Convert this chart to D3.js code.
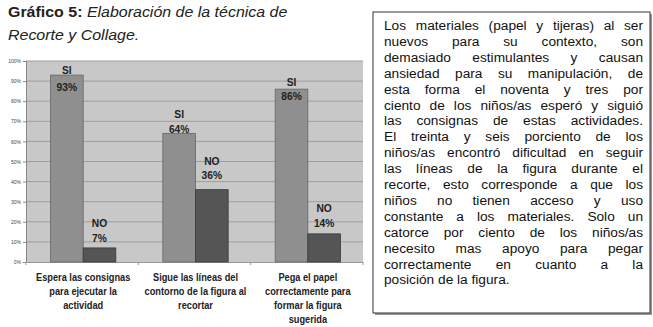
<!DOCTYPE html>
<html><head><meta charset="utf-8">
<script src="https://cdn.jsdelivr.net/npm/d3@7"></script>
<style>body{margin:0;background:#fff}svg{display:block}</style>
</head><body>
<svg id="c" width="653" height="327"></svg>
<script>
const categories = [
  ["Espera las consignas","para ejecutar la","actividad"],
  ["Sigue las líneas del","contorno de la figura al","recortar"],
  ["Pega el papel","correctamente para","formar la figura","sugerida"]
];
const seriesNames = ["SI","NO"];
const siValues = [93, 64, 86];
const noValues = [7, 36, 14];
const yTicks = [0,10,20,30,40,50,60,70,80,90,100];
const titleBold = "Gráfico 5:";
const titleItalic1 = " Elaboración de la técnica de";
const titleItalic2 = "Recorte y Collage.";
const paragraphLines = [
  "Los materiales (papel y tijeras) al ser",
  "nuevos para su contexto, son",
  "demasiado estimulantes y causan",
  "ansiedad para su manipulación, de",
  "esta forma el noventa y tres por",
  "ciento de los niños/as esperó y siguió",
  "las consignas de estas actividades.",
  "El treinta y seis porciento de los",
  "niños/as encontró dificultad en seguir",
  "las líneas de la figura durante el",
  "recorte, esto corresponde a que los",
  "niños no tienen acceso y uso",
  "constante a los materiales. Solo un",
  "catorce por ciento de los niños/as",
  "necesito mas apoyo para pegar",
  "correctamente en cuanto a la",
  "posición de la figura."
];

const svg = d3.select("#c");
const font = "Arial, 'Liberation Sans', sans-serif";

// Title
const t1 = svg.append("text").attr("transform", "translate(8,17) scale(1.05,1)").attr("font-family", font).attr("font-size", 15.2).attr("fill", "#222");
t1.append("tspan").attr("font-weight", "bold").text(titleBold);
t1.append("tspan").attr("font-style", "italic").text(titleItalic1);
svg.append("text").attr("transform", "translate(8,40) scale(1.05,1)").attr("font-family", font).attr("font-size", 15.2).attr("font-style", "italic").attr("fill", "#222").text(titleItalic2);

// Plot
const px0 = 26, px1 = 363, py0 = 61, py1 = 262;
const x0 = d3.scaleBand().domain(d3.range(categories.length)).range([px0, px1]).paddingInner(0).paddingOuter(0);
const x1 = d3.scaleBand().domain(seriesNames).range([0, x0.bandwidth()]).paddingInner(0).paddingOuter(0.72);
const y = d3.scaleLinear().domain([0, 100]).range([py1, py0]);

svg.append("rect").attr("x", px0).attr("y", py0).attr("width", px1 - px0).attr("height", py1 - py0).attr("fill", "#c8c8c8");
svg.append("g").selectAll("line").data(yTicks.slice(1)).join("line")
  .attr("x1", px0).attr("x2", px1).attr("y1", d => y(d)).attr("y2", d => y(d))
  .attr("stroke", "#9e9e9e").attr("stroke-width", 1);

const yAxis = svg.append("g").attr("transform", `translate(${px0},0)`)
  .call(d3.axisLeft(y).tickValues(yTicks).tickFormat(d => d + "%").tickSize(3).tickPadding(2));
yAxis.select(".domain").attr("stroke", "#888");
yAxis.selectAll(".tick line").attr("stroke", "#888");
yAxis.selectAll("text").attr("font-family", font).attr("font-size", 5).attr("fill", "#444");

const xAxis = svg.append("g").attr("transform", `translate(0,${py1})`)
  .call(d3.axisBottom(x0).tickValues([]).tickSize(0));
xAxis.select(".domain").attr("stroke", "#999");
svg.append("g").selectAll("line").data(d3.range(categories.length + 1)).join("line")
  .attr("x1", i => px0 + i * x0.step()).attr("x2", i => px0 + i * x0.step())
  .attr("y1", py1).attr("y2", py1 + 3).attr("stroke", "#999");

const fills = {SI: "#8f8f8f", NO: "#555555"};
const strokes = {SI: "#666", NO: "#3a3a3a"};
const rows = categories.map((c, i) => [{k: "SI", v: siValues[i], i}, {k: "NO", v: noValues[i], i}]).flat();

svg.append("g").selectAll("rect").data(rows).join("rect")
  .attr("x", d => x0(d.i) + x1(d.k) + 1).attr("width", x1.bandwidth())
  .attr("y", d => y(d.v)).attr("height", d => y(0) - y(d.v))
  .attr("fill", d => fills[d.k]).attr("stroke", d => strokes[d.k]).attr("stroke-width", 0.8);

// label offsets (layout, relative to bar top)
const nameDy = {SI: [-1, -15, -3], NO: [-21, -25, -22]};
const pctDy = {SI: [16, 0, 11], NO: [-6, -11, -7]};
const lab = svg.append("g").attr("font-family", font).attr("font-weight", "bold").attr("font-size", 11.4).attr("fill", "#222").attr("text-anchor", "middle");
rows.forEach(d => {
  const cx = x0(d.i) + x1(d.k) + x1.bandwidth() / 2 + 1;
  lab.append("text").attr("transform", `translate(${cx},${y(d.v) + nameDy[d.k][d.i]}) scale(0.9,1)`).text(d.k);
  lab.append("text").attr("transform", `translate(${cx},${y(d.v) + pctDy[d.k][d.i]}) scale(0.9,1)`).text(d.v + "%");
});

// Category labels
const cl = svg.append("g").attr("font-family", font).attr("font-weight", "bold").attr("font-size", 10.6).attr("fill", "#222").attr("text-anchor", "middle");
categories.forEach((lines, i) => {
  lines.forEach((ln, j) => {
    cl.append("text").attr("transform", `translate(${x0(i) + x0.bandwidth() / 2 + 1},${281 + j * 14}) scale(0.87,1)`).text(ln);
  });
});

// Text box
const bx = 373, by = 12, bw = 277, bh = 301;
svg.append("rect").attr("x", bx + 2).attr("y", by + 2).attr("width", bw).attr("height", bh).attr("fill", "#999");
svg.append("rect").attr("x", bx).attr("y", by).attr("width", bw).attr("height", bh).attr("fill", "#fff").attr("stroke", "#333").attr("stroke-width", 1);

const tx0 = 384, tx1 = 643, ty0 = 30, lh = 15.9;
const para = svg.append("g").attr("font-family", font).attr("font-size", 13.7).attr("fill", "#111");
paragraphLines.forEach((ln, j) => {
  const yy = ty0 + j * lh;
  const words = ln.split(" ");
  if (j === paragraphLines.length - 1) {
    para.append("text").attr("x", tx0).attr("y", yy).text(ln);
    return;
  }
  const nodes = words.map(w => para.append("text").attr("y", yy).text(w));
  const widths = nodes.map(n => n.node().getComputedTextLength());
  const total = d3.sum(widths);
  const avail = tx1 - tx0;
  const gap = (avail - total) / Math.max(1, words.length - 1);
  let sx = 1, g = gap;
  if (gap < 2.8) { g = 2.8; sx = avail / (total + g * (words.length - 1)); }
  let cx = 0;
  const grp = para.append("g").attr("transform", `translate(${tx0},0) scale(${sx},1)`);
  nodes.forEach((n, k) => { grp.node().appendChild(n.node()); n.attr("x", cx); cx += widths[k] + g; });
});
</script>
</body></html>
